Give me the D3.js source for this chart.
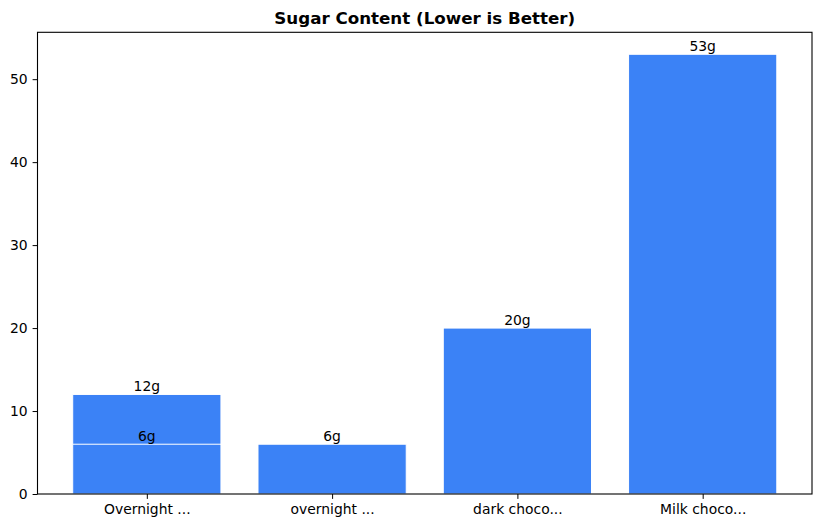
<!DOCTYPE html>
<html>
<head>
<meta charset="utf-8">
<script src="https://cdn.jsdelivr.net/npm/d3@7"></script>
<style>
  body { margin: 0; background: #fff; }
  text { font-family: "DejaVu Sans", sans-serif; fill: #000; }
</style>
</head>
<body>
<div id="chart"></div>
<script>
// bars in drawing order; the first two share a tick
const barLabels = ['Overnight ...', 'Overnight ...', 'overnight ...', 'dark choco...', 'Milk choco...']
const sugarValues = [12, 6, 6, 20, 53]
const yTicks = [0, 10, 20, 30, 40, 50]
const chartTitle = 'Sugar Content (Lower is Better)'

const width = 822
const height = 528
const margin = { top: 32.3, right: 10, bottom: 34, left: 37.5 }
const innerW = width - margin.left - margin.right
const innerH = height - margin.top - margin.bottom

const categories = Array.from(new Set(barLabels))

const svg = d3.select('#chart')
  .append('svg')
  .attr('width', width)
  .attr('height', height)

const g = svg.append('g')
  .attr('transform', `translate(${margin.left},${margin.top})`)

// matplotlib style: positions 0..n-1, bar width 0.8, 5% margins
const n = categories.length
const xLin = d3.scaleLinear()
  .domain([-0.4 - 0.05 * (n - 0.2), n - 1 + 0.4 + 0.05 * (n - 0.2)])
  .range([0, innerW])
const xPos = label => xLin(categories.indexOf(label))
const barW = xLin(0.8) - xLin(0)

const yMax = d3.max(sugarValues) * 1.05
const y = d3.scaleLinear().domain([0, yMax]).range([innerH, 0])

g.selectAll('rect.bar')
  .data(sugarValues)
  .enter()
  .append('rect')
  .attr('class', 'bar')
  .attr('x', (d, i) => xPos(barLabels[i]) - barW / 2)
  .attr('width', barW)
  .attr('y', d => y(d))
  .attr('height', d => y(0) - y(d))
  .attr('fill', '#3b82f6')
  .attr('stroke', '#ffffff')
  .attr('stroke-width', 1)

g.selectAll('text.value')
  .data(sugarValues)
  .enter()
  .append('text')
  .attr('class', 'value')
  .attr('x', (d, i) => xPos(barLabels[i]))
  .attr('y', d => y(d) - 3)
  .attr('text-anchor', 'middle')
  .style('font-size', '13.9px')
  .text(d => `${d}g`)

// axes
const xAxis = g.append('g')
  .attr('transform', `translate(0,${innerH})`)
  .call(d3.axisBottom(xLin).tickValues(d3.range(n)).tickFormat(i => categories[i])
    .tickSize(4.9).tickPadding(4.9))
const yAxis = g.append('g')
  .call(d3.axisLeft(y).tickValues(yTicks).tickSize(4.9).tickPadding(4.9))

;[xAxis, yAxis].forEach(a => {
  a.select('.domain').remove()
  a.selectAll('text').style('font-size', '13.9px').style('font-family', '"DejaVu Sans", sans-serif')
  a.selectAll('line').attr('stroke', '#000').attr('stroke-width', 1)
})

g.append('rect')
  .attr('width', innerW)
  .attr('height', innerH)
  .attr('fill', 'none')
  .attr('stroke', '#000')
  .attr('stroke-width', 1.1)

svg.append('text')
  .attr('x', margin.left + innerW / 2)
  .attr('y', margin.top - 8.3)
  .attr('text-anchor', 'middle')
  .style('font-size', '16.7px')
  .style('font-weight', 'bold')
  .text(chartTitle)
</script>
</body>
</html>
